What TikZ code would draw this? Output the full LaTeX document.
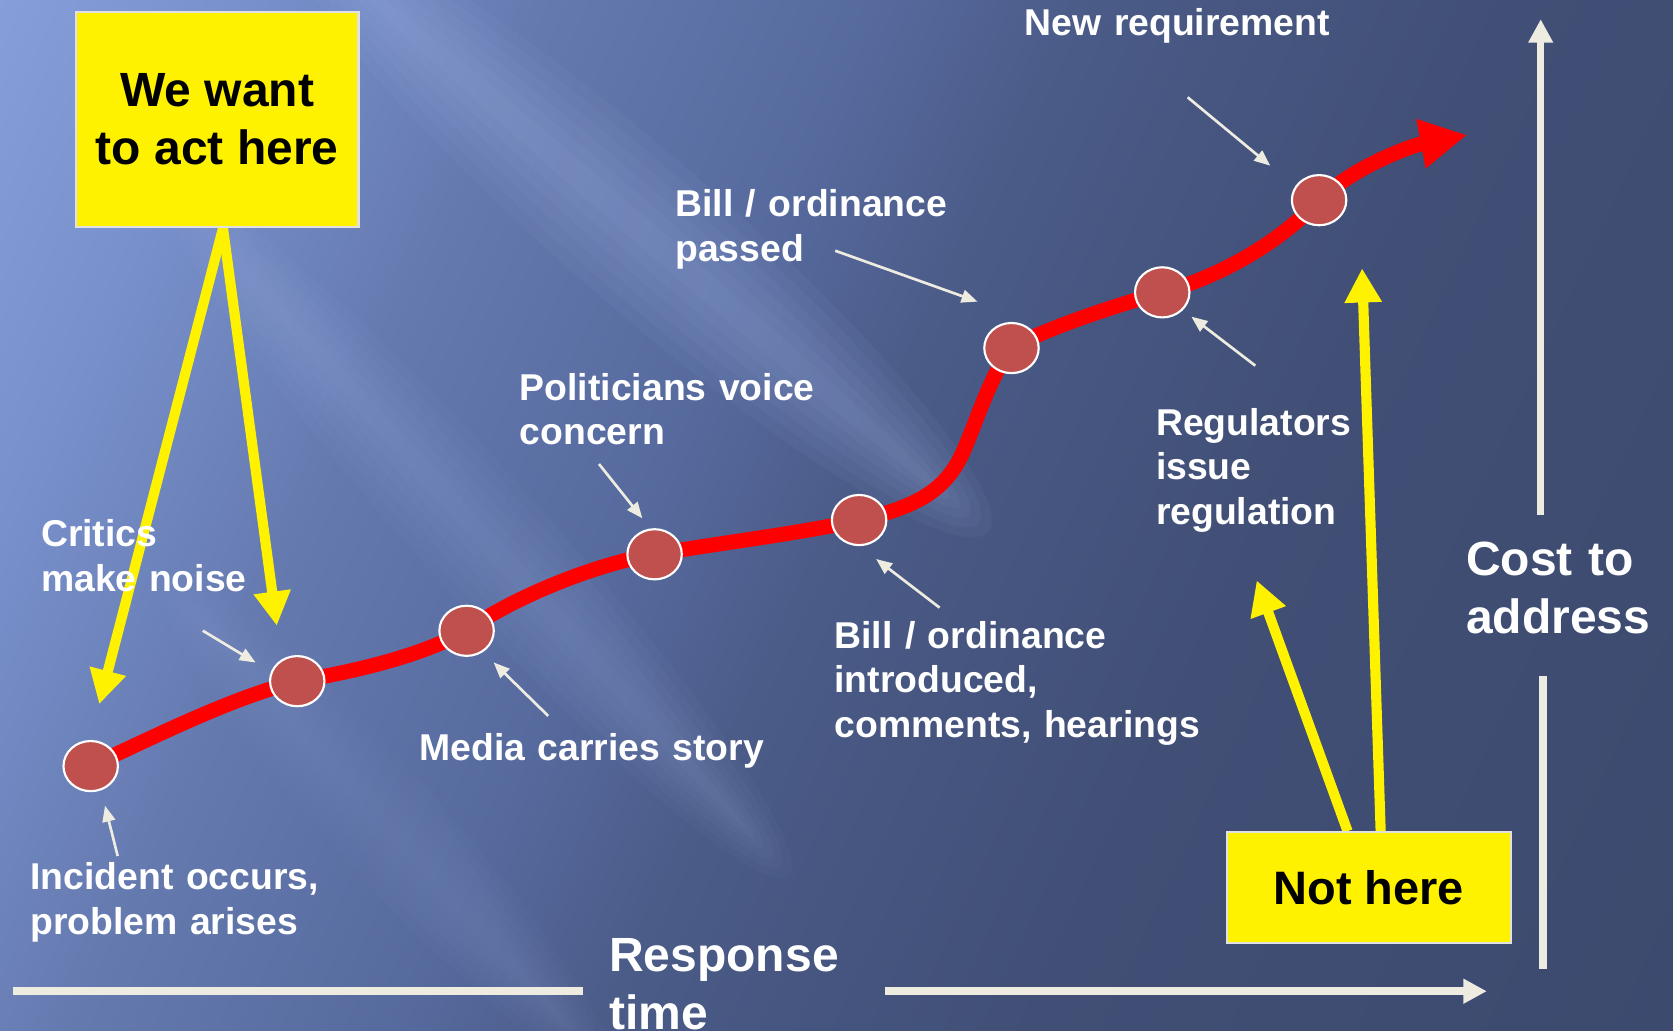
\documentclass[tikz,border=0pt]{standalone}
\usepackage{fontspec}
\setmainfont{Liberation Sans}
\usetikzlibrary{arrows.meta,shapes.geometric}
\definecolor{bgA}{RGB}{134,158,217}
\definecolor{bgB}{RGB}{120,144,204}
\definecolor{bgC}{RGB}{100,121,174}
\definecolor{bgD}{RGB}{86,106,158}
\definecolor{bgE}{RGB}{76,92,137}
\definecolor{bgF}{RGB}{71,87,130}
\definecolor{bgG}{RGB}{65,79,118}
\definecolor{bgH}{RGB}{60,74,110}
\definecolor{ivory}{RGB}{238,236,225}
\definecolor{dotred}{RGB}{192,80,77}
\definecolor{boxedge}{RGB}{225,225,225}
\definecolor{streak}{RGB}{175,195,245}
\pgfdeclarehorizontalshading{bgshade}{2000bp}{color(0bp)=(bgA); color(86bp)=(bgA); color(300bp)=(bgB); color(560bp)=(bgC); color(830bp)=(bgD); color(1000bp)=(bgE); color(1120bp)=(bgF); color(1370bp)=(bgG); color(1914bp)=(bgH); color(2000bp)=(bgH)}
\pgfdeclarelayer{back}
\pgfdeclarelayer{mid}
\pgfsetlayers{back,mid,main}
\begin{document}
\begin{tikzpicture}[x=1pt,y=-1pt,
  lbl/.style={text=white, font=\fontsize{35}{41.8}\selectfont\bfseries, anchor=base west,
    inner sep=0pt, outer sep=0pt, text width=400pt, align=left},
  biglbl/.style={lbl, font=\fontsize{45}{54.5}\selectfont\bfseries},
  ybox/.style={rectangle, fill=yellow, draw=boxedge, line width=2pt, text=black, inner sep=0pt},
  dot/.style={ellipse, fill=dotred, draw=white, line width=2pt, minimum width=51pt,
    minimum height=47pt, inner sep=0pt},
  yarrow/.style={draw=yellow, line width=9.5pt, -{Triangle[length=32pt,width=33pt]}},
  redline/.style={draw=red, line width=14pt, -{Triangle[length=44pt,width=44pt]}},
  note/.style={draw=ivory, line width=2.5pt, -{Triangle[length=15pt,width=12pt]}},
  axisline/.style={draw=ivory, line width=7pt},
  axistip/.style={-{Triangle[length=22pt,width=22pt]}}]
\useasboundingbox (0,0) rectangle (1568,966);

% ---------- background ----------
\begin{pgfonlayer}{back}
  \fill[bgH] (0,0) rectangle (1568,966);
  \begin{scope}
    \clip (0,0) rectangle (1568,966);
    \node[rotate=-25, inner sep=0pt, outer sep=0pt] (bgfill) at (784,483) {\pgfuseshading{bgshade}};
    \foreach \w in {12,24,36,48,60,72} {
      \fill[streak, opacity=0.05, rotate around={-41:(600,215)}] (600,215) ellipse [x radius={360+\w}, y radius=\w];
      \fill[streak, opacity=0.035, rotate around={-48:(450,500)}] (450,500) ellipse [x radius={360+\w}, y radius={0.8*\w}];
      \fill[streak, opacity=0.022, rotate around={-48:(360,770)}] (360,770) ellipse [x radius={240+\w}, y radius={0.7*\w}];
    }
  \end{scope}
\end{pgfonlayer}

% ---------- boxes and milestones ----------
\node[ybox, minimum width=265pt, minimum height=202pt, align=center,
  font=\fontsize{45}{54}\selectfont\bfseries] (want) at (203.5,112) {We want\\to act here};
\node[ybox, minimum width=266pt, minimum height=104pt,
  font=\fontsize{44}{53}\selectfont\bfseries] (nothere) at (1283,832) {Not here};

\node[dot] (c1) at (85,718) {};
\node[dot] (c2) at (278.6,638.4) {};
\node[dot] (c3) at (437.3,591.2) {};
\node[dot] (c4) at (613.5,519.5) {};
\node[dot] (c5) at (805.2,487.4) {};
\node[dot] (c6) at (948,326.2) {};
\node[dot] (c7) at (1089.3,274) {};
\node[dot] (c8) at (1236.3,187.6) {};

% ---------- free ends ----------
\coordinate (redtip) at (1375,126.5);
\coordinate (yt1) at (93,660);
\coordinate (yt2) at (259.4,586.4);
\coordinate (yt3) at (1177.8,544);
\coordinate (yt4) at (1276.6,251.5);
\coordinate (hx0) at (11.8,929);
\coordinate (hx1) at (546,929);
\coordinate (hx2) at (829.5,929);
\coordinate (hx3) at (1393.5,929);
\coordinate (vy0) at (1446,908);
\coordinate (vy1) at (1446,634);
\coordinate (vy2) at (1444,483);
\coordinate (vy3) at (1444,18);

\begin{pgfonlayer}{mid}
  \draw[axisline] (hx0) -- (hx1);
  \draw[axisline, axistip] (hx2) -- (hx3);
  \draw[axisline] (vy0) -- (vy1);
  \draw[axisline, axistip] (vy2) -- (vy3);
  \draw[yarrow] ([xshift=5.5pt]want.south) -- (yt1);
  \draw[yarrow] ([xshift=5.5pt]want.south) -- (yt2);
  \draw[yarrow] ([xshift=-20pt]nothere.north) -- (yt3);
  \draw[yarrow] ([xshift=11pt]nothere.north) -- (yt4);
  \draw[redline] (c1.center) .. controls (150,688) and (215,655) .. (c2.center)
    .. controls (340,628) and (395,614) .. (c3.center)
    .. controls (480,560) and (560,528) .. (c4.center)
    .. controls (680,508) and (750,500) .. (c5.center)
    .. controls (855,476) and (885,462) .. (902,425)
    .. controls (915,396) and (928,352) .. (c6.center)
    .. controls (980,308) and (1040,288) .. (c7.center)
    .. controls (1135,262) and (1195,232) .. (c8.center)
    .. controls (1270,155) and (1325,136) .. (redtip);
\end{pgfonlayer}

% ---------- annotation arrows ----------
\coordinate (n1a) at (110.3,802.3); \coordinate (n1b) at (98.4,755.1);
\coordinate (n2a) at (190.1,591.1); \coordinate (n2b) at (239.6,621);
\coordinate (n3a) at (513.8,671);   \coordinate (n3b) at (462.6,620.8);
\coordinate (n4a) at (561.4,434.9); \coordinate (n4b) at (602,485.8);
\coordinate (n5a) at (782.8,235);   \coordinate (n5b) at (916.2,282.7);
\coordinate (n6a) at (880.6,569.5); \coordinate (n6b) at (821.1,523.9);
\coordinate (n7a) at (1176.5,342.7);\coordinate (n7b) at (1116.6,296.8);
\coordinate (n8a) at (1113.1,91.2); \coordinate (n8b) at (1190.5,155.3);
\draw[note] (n1a) -- (n1b);
\draw[note] (n2a) -- (n2b);
\draw[note] (n3a) -- (n3b);
\draw[note] (n4a) -- (n4b);
\draw[note] (n5a) -- (n5b);
\draw[note] (n6a) -- (n6b);
\draw[note] (n7a) -- (n7b);
\draw[note] (n8a) -- (n8b);

% ---------- labels ----------
\node[lbl] (incident) at (28.5,834) {Incident occurs,\\problem arises};
\node[lbl] (critics) at (38.5,512.3) {Critics\\make noise};
\node[lbl] (media) at (393,712.3) {Media carries story};
\node[lbl] (politicians) at (487.2,375) {Politicians voice\\concern};
\node[lbl] (passed) at (633,203) {Bill / ordinance\\passed};
\node[lbl] (introduced) at (782.2,607.6) {Bill / ordinance\\introduced,\\comments, hearings};
\node[lbl] (regulators) at (1083.5,407.7) {Regulators\\issue\\regulation};
\node[lbl] (newreq) at (960.5,33) {New requirement};
\node[biglbl] (cost) at (1374,539) {Cost to\\address};
\node[biglbl] (response) at (571,910.7) {Response\\time};
\end{tikzpicture}
\end{document}
